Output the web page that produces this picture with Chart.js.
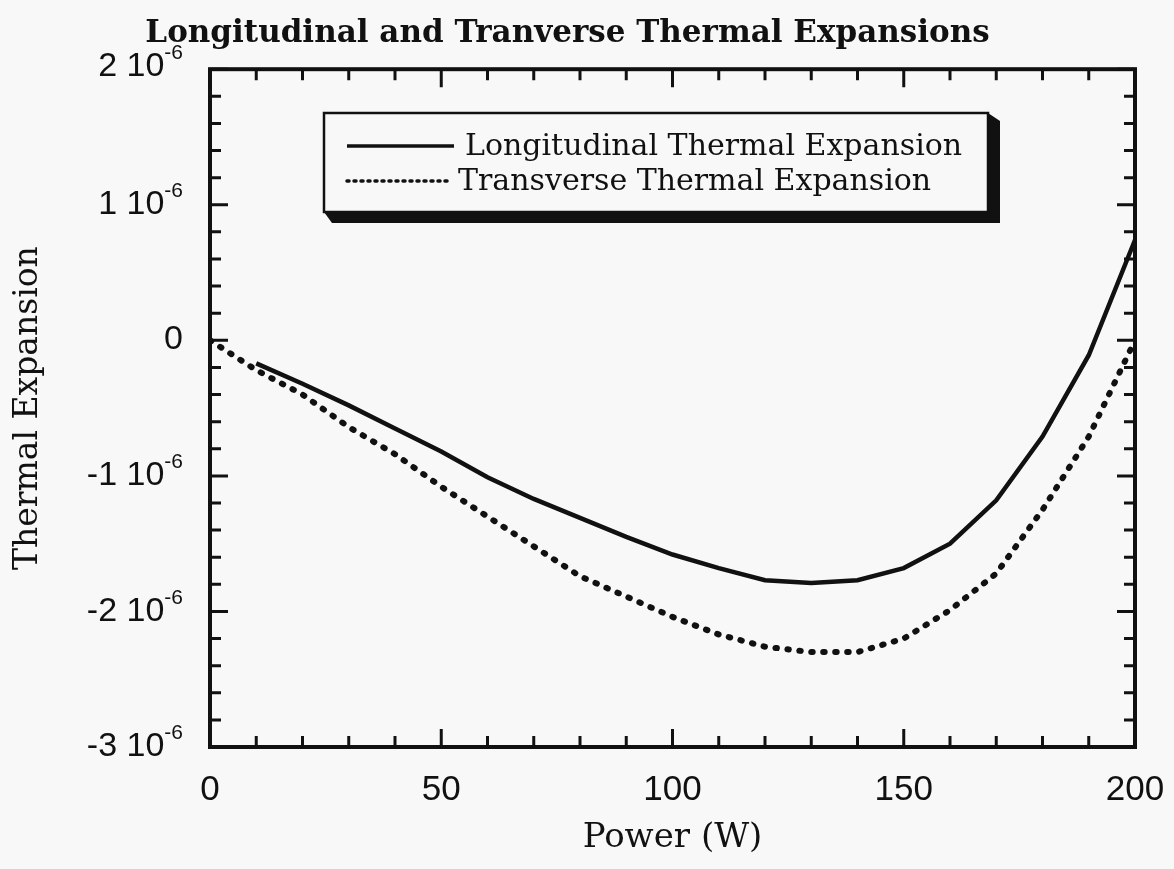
<!DOCTYPE html>
<html><head><meta charset="utf-8">
<script src="https://cdn.jsdelivr.net/npm/chart.js@4.4.1/dist/chart.umd.min.js"></script>
<style>html,body{margin:0;padding:0;background:#f8f8f8;}#wrap{width:1174px;height:869px;}</style>
</head><body><div id="wrap"><canvas id="c" width="1174" height="869"></canvas></div>
<script>
// ---- data ----
const power = [0,10,20,30,40,50,60,70,80,90,100,110,120,130,140,150,160,170,180,190,200];
const longitudinal = [null,-0.17e-6,-0.32e-6,-0.48e-6,-0.65e-6,-0.82e-6,-1.01e-6,-1.17e-6,-1.31e-6,-1.45e-6,-1.58e-6,-1.68e-6,-1.77e-6,-1.79e-6,-1.77e-6,-1.68e-6,-1.50e-6,-1.18e-6,-0.71e-6,-0.11e-6,0.74e-6];
const transverse = [0,-0.22e-6,-0.40e-6,-0.64e-6,-0.84e-6,-1.08e-6,-1.30e-6,-1.52e-6,-1.74e-6,-1.89e-6,-2.04e-6,-2.17e-6,-2.26e-6,-2.30e-6,-2.30e-6,-2.20e-6,-1.99e-6,-1.72e-6,-1.25e-6,-0.71e-6,0.0];
const xTickValues = [0,50,100,150,200];
const yTickValues = [2e-6,1e-6,0,-1e-6,-2e-6,-3e-6];
const yTickMantissa = ['2','1','0','-1','-2','-3'];
const yTickExponent = '-6';
const seriesLabels = ['Longitudinal Thermal Expansion','Transverse Thermal Expansion'];
const chartTitle = 'Longitudinal and Tranverse Thermal Expansions';
const xTitle = 'Power (W)';
const yTitle = 'Thermal Expansion';

const INK = '#111';
const SERIF = '"DejaVu Serif", "Liberation Serif", serif';
const SANS = '"Liberation Sans", Arial, sans-serif';

function pts(ys){ return power.map((p,i)=>({x:p,y:ys[i]})).filter(d=>d.y!==null); }

const framePlugin = {
  id:'frame',
  afterDraw(chart){
    const {ctx, chartArea:a, scales:{x,y}} = chart;
    ctx.save();
    ctx.strokeStyle = INK; ctx.lineCap='butt';
    ctx.lineWidth = 4;
    ctx.strokeRect(a.left, a.top, a.right-a.left, a.bottom-a.top);
    ctx.lineWidth = 3;
    for(let k=0;k<=20;k++){
      const v = k*10; const px = x.getPixelForValue(v);
      const len = (v%50===0)?18:11;
      ctx.beginPath();
      ctx.moveTo(px,a.bottom); ctx.lineTo(px,a.bottom-len);
      ctx.moveTo(px,a.top); ctx.lineTo(px,a.top+len);
      ctx.stroke();
    }
    for(let k=-15;k<=10;k++){
      const v = k*0.2e-6; const py = y.getPixelForValue(v);
      const len = (k%5===0)?18:11;
      ctx.beginPath();
      ctx.moveTo(a.left,py); ctx.lineTo(a.left+len,py);
      ctx.moveTo(a.right,py); ctx.lineTo(a.right-len,py);
      ctx.stroke();
    }
    // y tick labels with superscript exponent
    ctx.fillStyle = INK; ctx.textBaseline='alphabetic'; ctx.textAlign='left';
    const mainSize = 34, supSize = 21;
    const rightEdge = a.left - 27;
    yTickValues.forEach((v,i)=>{
      const py = y.getPixelForValue(v) - (i===0 ? 5 : 3);
      const base = py + mainSize*0.716/2;
      if(yTickMantissa[i]==='0'){
        ctx.font = mainSize+'px '+SANS;
        const w = ctx.measureText('0').width;
        ctx.fillText('0', rightEdge - w, base);
      } else {
        ctx.font = supSize+'px '+SANS;
        const sw = ctx.measureText(yTickExponent).width;
        ctx.font = mainSize+'px '+SANS;
        const mtxt = yTickMantissa[i]+' 10';
        const mw = ctx.measureText(mtxt).width;
        ctx.fillText(mtxt, rightEdge - sw - mw, base);
        ctx.font = supSize+'px '+SANS;
        ctx.fillText(yTickExponent, rightEdge - sw, base - 17);
      }
    });
    // legend box with 3D shadow
    const L=324,T=113,R=988,B=212;
    ctx.fillStyle = INK;
    ctx.beginPath();
    ctx.moveTo(R, T); ctx.lineTo(R+12, T+8); ctx.lineTo(R+12, B+11); ctx.lineTo(L+8, B+11); ctx.lineTo(L, B); ctx.closePath();
    ctx.fill();
    ctx.fillStyle = '#f8f8f8';
    ctx.fillRect(L, T, R-L, B-T);
    ctx.lineWidth = 2.5; ctx.strokeStyle = INK;
    ctx.strokeRect(L, T, R-L, B-T);
    const rows = [T+33, T+68];
    const sampleLen = [107, 100];
    chart.data.datasets.forEach((ds,i)=>{
      const yy = rows[i];
      ctx.save();
      ctx.lineWidth = 3.5; ctx.strokeStyle = INK;
      if(ds.borderDash && ds.borderDash.length){ ctx.setLineDash([2,5]); ctx.lineCap='round'; } else { ctx.lineCap='butt'; }
      ctx.beginPath(); ctx.moveTo(L+23, yy); ctx.lineTo(L+23+sampleLen[i], yy); ctx.stroke();
      ctx.restore();
      ctx.fillStyle = INK; ctx.font = '30px '+SERIF; ctx.textBaseline='middle'; ctx.textAlign='left';
      ctx.fillText(ds.label, L+23+sampleLen[i]+11, yy+1);
    });
    ctx.restore();
  }
};

new Chart(document.getElementById('c'), {
  type:'line',
  data:{ datasets:[
    { label: seriesLabels[0], data: pts(longitudinal), borderColor: INK, borderWidth: 4.5, pointRadius: 0, tension: 0, fill:false },
    { label: seriesLabels[1], data: pts(transverse), borderColor: INK, borderWidth: 6, borderDash:[1.5,10.5], borderCapStyle:'round', pointRadius: 0, tension: 0, fill:false }
  ]},
  options:{
    responsive:false, animation:false, devicePixelRatio:1,
    layout:{ padding:{ left:0, right:39, top:0, bottom:0 } },
    plugins:{
      legend:{ display:false },
      tooltip:{ enabled:false },
      title:{ display:true, text: chartTitle, color: INK, font:{ family: SERIF, size: 31, weight:'bold' }, padding:{ top:15, bottom:17 } }
    },
    scales:{
      x:{ type:'linear', min:0, max:200,
        afterBuildTicks: s => { s.ticks = xTickValues.map(v=>({value:v})); },
        afterFit: s => { s.height = 122; s.paddingLeft = 0; s.paddingRight = 0; },
        grid:{ display:false, drawTicks:false }, border:{ display:false },
        ticks:{ color: INK, font:{ family: SANS, size: 35 }, padding: 22, maxRotation:0, autoSkip:false },
        title:{ display:true, text: xTitle, color: INK, font:{ family: SERIF, size: 34 }, padding:{ top:0, bottom:10 } }
      },
      y:{ type:'linear', min:-3e-6, max:2e-6,
        afterBuildTicks: s => { s.ticks = yTickValues.map(v=>({value:v})); },
        afterFit: s => { s.width = 210; s.paddingTop = 0; s.paddingBottom = 0; },
        grid:{ display:false, drawTicks:false }, border:{ display:false },
        ticks:{ display:false },
        title:{ display:true, text: yTitle, color: INK, font:{ family: SERIF, size: 33 }, padding:{ top:9, bottom:0 } }
      }
    }
  },
  plugins:[framePlugin]
});
</script></body></html>
